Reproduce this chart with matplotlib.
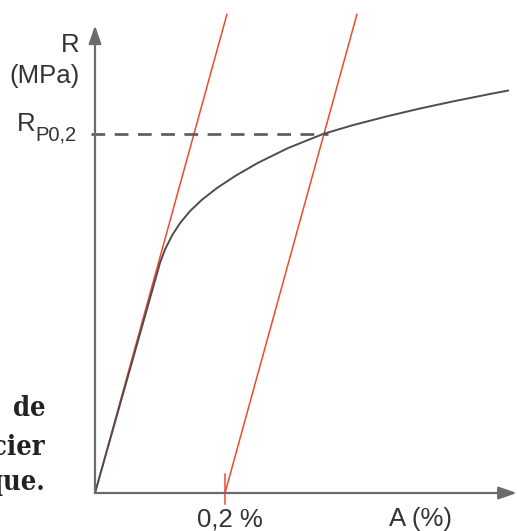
import matplotlib
matplotlib.use('Agg')
import matplotlib.pyplot as plt

# courbe de traction (A en %, R en MPa)
strain = [0, 0.1000, 0.1077, 0.1185, 0.1308, 0.1462, 0.1646, 0.1877, 0.2154, 0.2508,
          0.2969, 0.3508, 0.3969, 0.4492, 0.5000, 0.5508, 0.6031, 0.6354]
stress = [0, 256.3, 271.3, 286.9, 300.7, 314.1, 326.8, 339.8, 353.1, 367.9,
          384.3, 400.0, 409.9, 419.7, 428.4, 436.3, 443.9, 448.4]

E = 2628          # pente elastique, MPa / %
offsets = [0, 0.2]  # droites paralleles
r_top = 534
rp02 = 400
a_rp = 0.3508

axis_col = '#6b6b6b'
red = '#f04a2e'
txt = '#333333'

plt.rcParams['font.family'] = ['Liberation Sans', 'DejaVu Sans']

fig = plt.figure(figsize=(5.17, 5.31), dpi=100)
ax = fig.add_axes([0, 0, 1, 1])
ax.set_xlim(-0.14615, 0.64923)
ax.set_ylim(-42.34, 549.3)
ax.axis('off')

# axes avec fleches
ax.annotate('', xy=(0, 521), xytext=(0, 0),
            arrowprops=dict(arrowstyle='-|>,head_length=1.1,head_width=0.38',
                            color=axis_col, lw=1.6, shrinkA=0, shrinkB=0))
ax.annotate('', xy=(0.649, 0), xytext=(0, 0),
            arrowprops=dict(arrowstyle='-|>,head_length=1.1,head_width=0.38',
                            color=axis_col, lw=1.6, shrinkA=0, shrinkB=0))

# droites rouges
for off in offsets:
    ax.plot([off, off + r_top / E], [0, r_top], color=red, lw=1.1, solid_capstyle='butt')
ax.plot([0.2, 0.2], [-12, 21], color=red, lw=1.1)

# pointilles R_p0,2
ax.plot([-0.006, a_rp + 0.008], [rp02, rp02], color='#5a5a5a', lw=1.9,
        dashes=(5.2, 3.6), dash_capstyle='butt')

# courbe
ax.plot(strain, stress, color='#4d4d4d', lw=1.4, solid_joinstyle='round')

# textes
ax.text(-0.0231, 491.4, 'R', ha='right', va='baseline', fontsize=18.5, color=txt)
ax.text(-0.0231, 456.8, '(MPa)', ha='right', va='baseline', fontsize=18.5, color=txt)
ax.text(-0.1200, 403.3, 'R', ha='left', va='baseline', fontsize=18.5, color=txt)
ax.text(-0.0910, 392.2, 'P0,2', ha='left', va='baseline', fontsize=14.5, color=txt)
ax.text(0.2077, -36.8, '0,2 %', ha='center', va='baseline', fontsize=18.5, color=txt)
ax.text(0.5015, -36.8, 'A (%)', ha='center', va='baseline', fontsize=18.5, color=txt)

# morceaux de la legende coupee a gauche
for s, y in [('de', 85.8), ('cier', 42.3), ('que.', 3.3)]:
    ax.text(-0.0769, y, s, ha='right', va='baseline', fontsize=19.5,
            fontweight='heavy', fontstretch='condensed', family='DejaVu Serif',
            color='#222222')

fig.savefig('out.png', dpi=100)
